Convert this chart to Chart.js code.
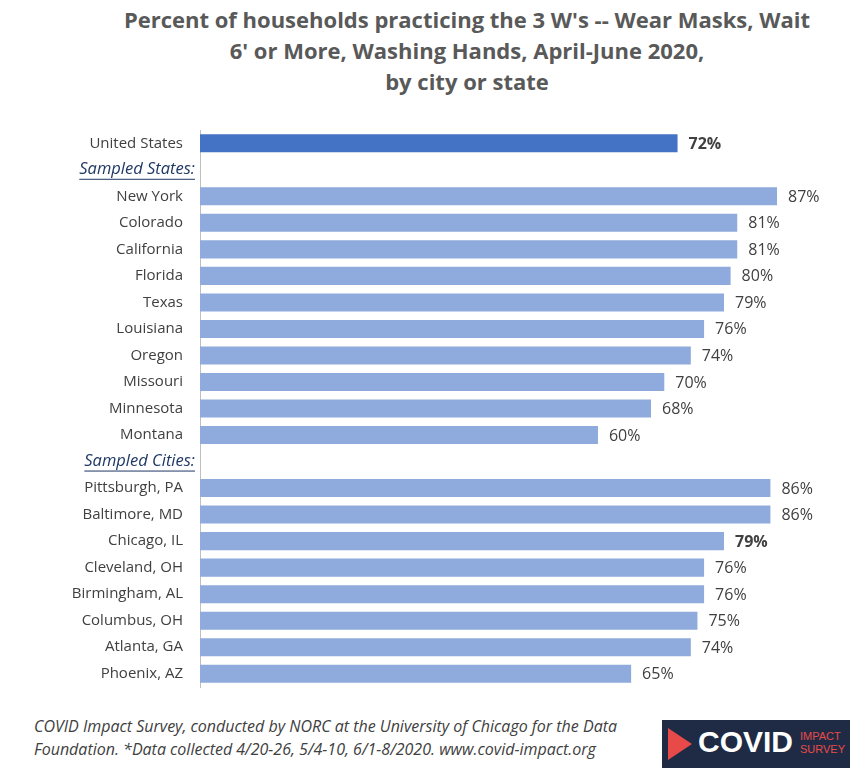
<!DOCTYPE html>
<html>
<head>
<meta charset="UTF-8">
<script src="https://cdn.jsdelivr.net/npm/chart.js"></script>
<style>
  body { margin:0; width:867px; height:784px; background:#fff; font-family:"Open Sans", sans-serif; position:relative; overflow:hidden; }
  #title { position:absolute; left:80px; width:774px; top:4px; text-align:center; font-weight:bold; font-size:22px; line-height:31px; color:#595959; }
  #wrap { position:absolute; left:0; top:0; width:867px; height:700px; }
  #foot { position:absolute; left:34px; top:715px; font-size:16px; font-style:italic; color:#404040; line-height:23px; }
  #logo { position:absolute; left:662px; top:720px; width:188px; height:48px; background:#1f2a44; }
  #logo .big { position:absolute; left:36px; top:5px; color:#fff; font-weight:bold; font-size:30px; font-family:"Liberation Sans", sans-serif; }
  #logo .small { position:absolute; left:138px; top:10px; color:#e84a4a; font-size:11px; line-height:13px; font-family:"Liberation Sans", sans-serif; }
  #logo .arrow { position:absolute; left:6px; top:8px; width:0; height:0; border-top:16px solid transparent; border-bottom:16px solid transparent; border-left:24px solid #e84a4a; }
</style>
</head>
<body>
<div id="title">Percent of households practicing the 3 W's -- Wear Masks, Wait<br>6' or More, Washing Hands, April-June 2020,<br>by city or state</div>
<div id="wrap"><canvas id="c"></canvas></div>
<div id="foot">COVID Impact Survey, conducted by NORC at the University of Chicago for the Data<br>Foundation. *Data collected 4/20-26, 5/4-10, 6/1-8/2020. www.covid-impact.org</div>
<div id="logo"><div class="arrow"></div><div class="big">COVID</div><div class="small">IMPACT<br>SURVEY</div></div>
<script>
const labels = ['United States','Sampled States:','New York','Colorado','California','Florida','Texas','Louisiana','Oregon','Missouri','Minnesota','Montana',
  'Sampled Cities:','Pittsburgh, PA','Baltimore, MD','Chicago, IL','Cleveland, OH','Birmingham, AL','Columbus, OH','Atlanta, GA','Phoenix, AZ'];
const values = [72,null,87,81,81,80,79,76,74,70,68,60,null,86,86,79,76,76,75,74,65];
const headers = ['Sampled States:','Sampled Cities:'];
const boldLabels = ['United States','Chicago, IL'];

const textPlugin = {
  id:'texts',
  afterDatasetsDraw(chart){
    const ctx = chart.ctx, y = chart.scales.y, x = chart.scales.x;
    ctx.save();
    ctx.textBaseline = 'middle';
    labels.forEach((lab,i)=>{
      const py = y.getPixelForValue(i);
      ctx.textAlign = 'right';
      if (headers.includes(lab)) {
        ctx.font = 'italic 16.5px "Open Sans"';
        ctx.fillStyle = '#1f3864';
        ctx.fillText(lab, 195, py);
        const w = ctx.measureText(lab).width;
        ctx.fillRect(195-w, py+9, w, 1);
      } else {
        ctx.font = '15px "Open Sans"';
        ctx.fillStyle = '#404040';
        ctx.fillText(lab, 183, py);
      }
      const v = values[i];
      if (v != null) {
        ctx.textAlign = 'left';
        ctx.font = (boldLabels.includes(lab) ? 'bold ' : '') + '16px "Open Sans"';
        ctx.fillStyle = '#404040';
        ctx.fillText(v + '%', x.getPixelForValue(v) + 11, py + 1);
      }
    });
    ctx.restore();
  }
};

new Chart(document.getElementById('c'), {
  type:'bar',
  data:{ labels, datasets:[{ data: values,
    backgroundColor: labels.map((l,i)=> i===0 ? '#4472c4' : '#8faadc'),
    barPercentage:0.68, categoryPercentage:1 }]},
  options:{
    indexAxis:'y', responsive:true, maintainAspectRatio:false, animation:false,
    layout:{ padding:{ left:200, right:17, top:130, bottom:13 } },
    plugins:{ legend:{display:false}, tooltip:{enabled:false} },
    scales:{
      x:{ display:false, min:0, max:98 },
      y:{ ticks:{display:false}, grid:{display:false}, border:{display:true, color:'#bfbfbf'},
          afterFit(s){ s.width = 0; } }
    }
  },
  plugins:[textPlugin]
});
</script>
</body>
</html>
